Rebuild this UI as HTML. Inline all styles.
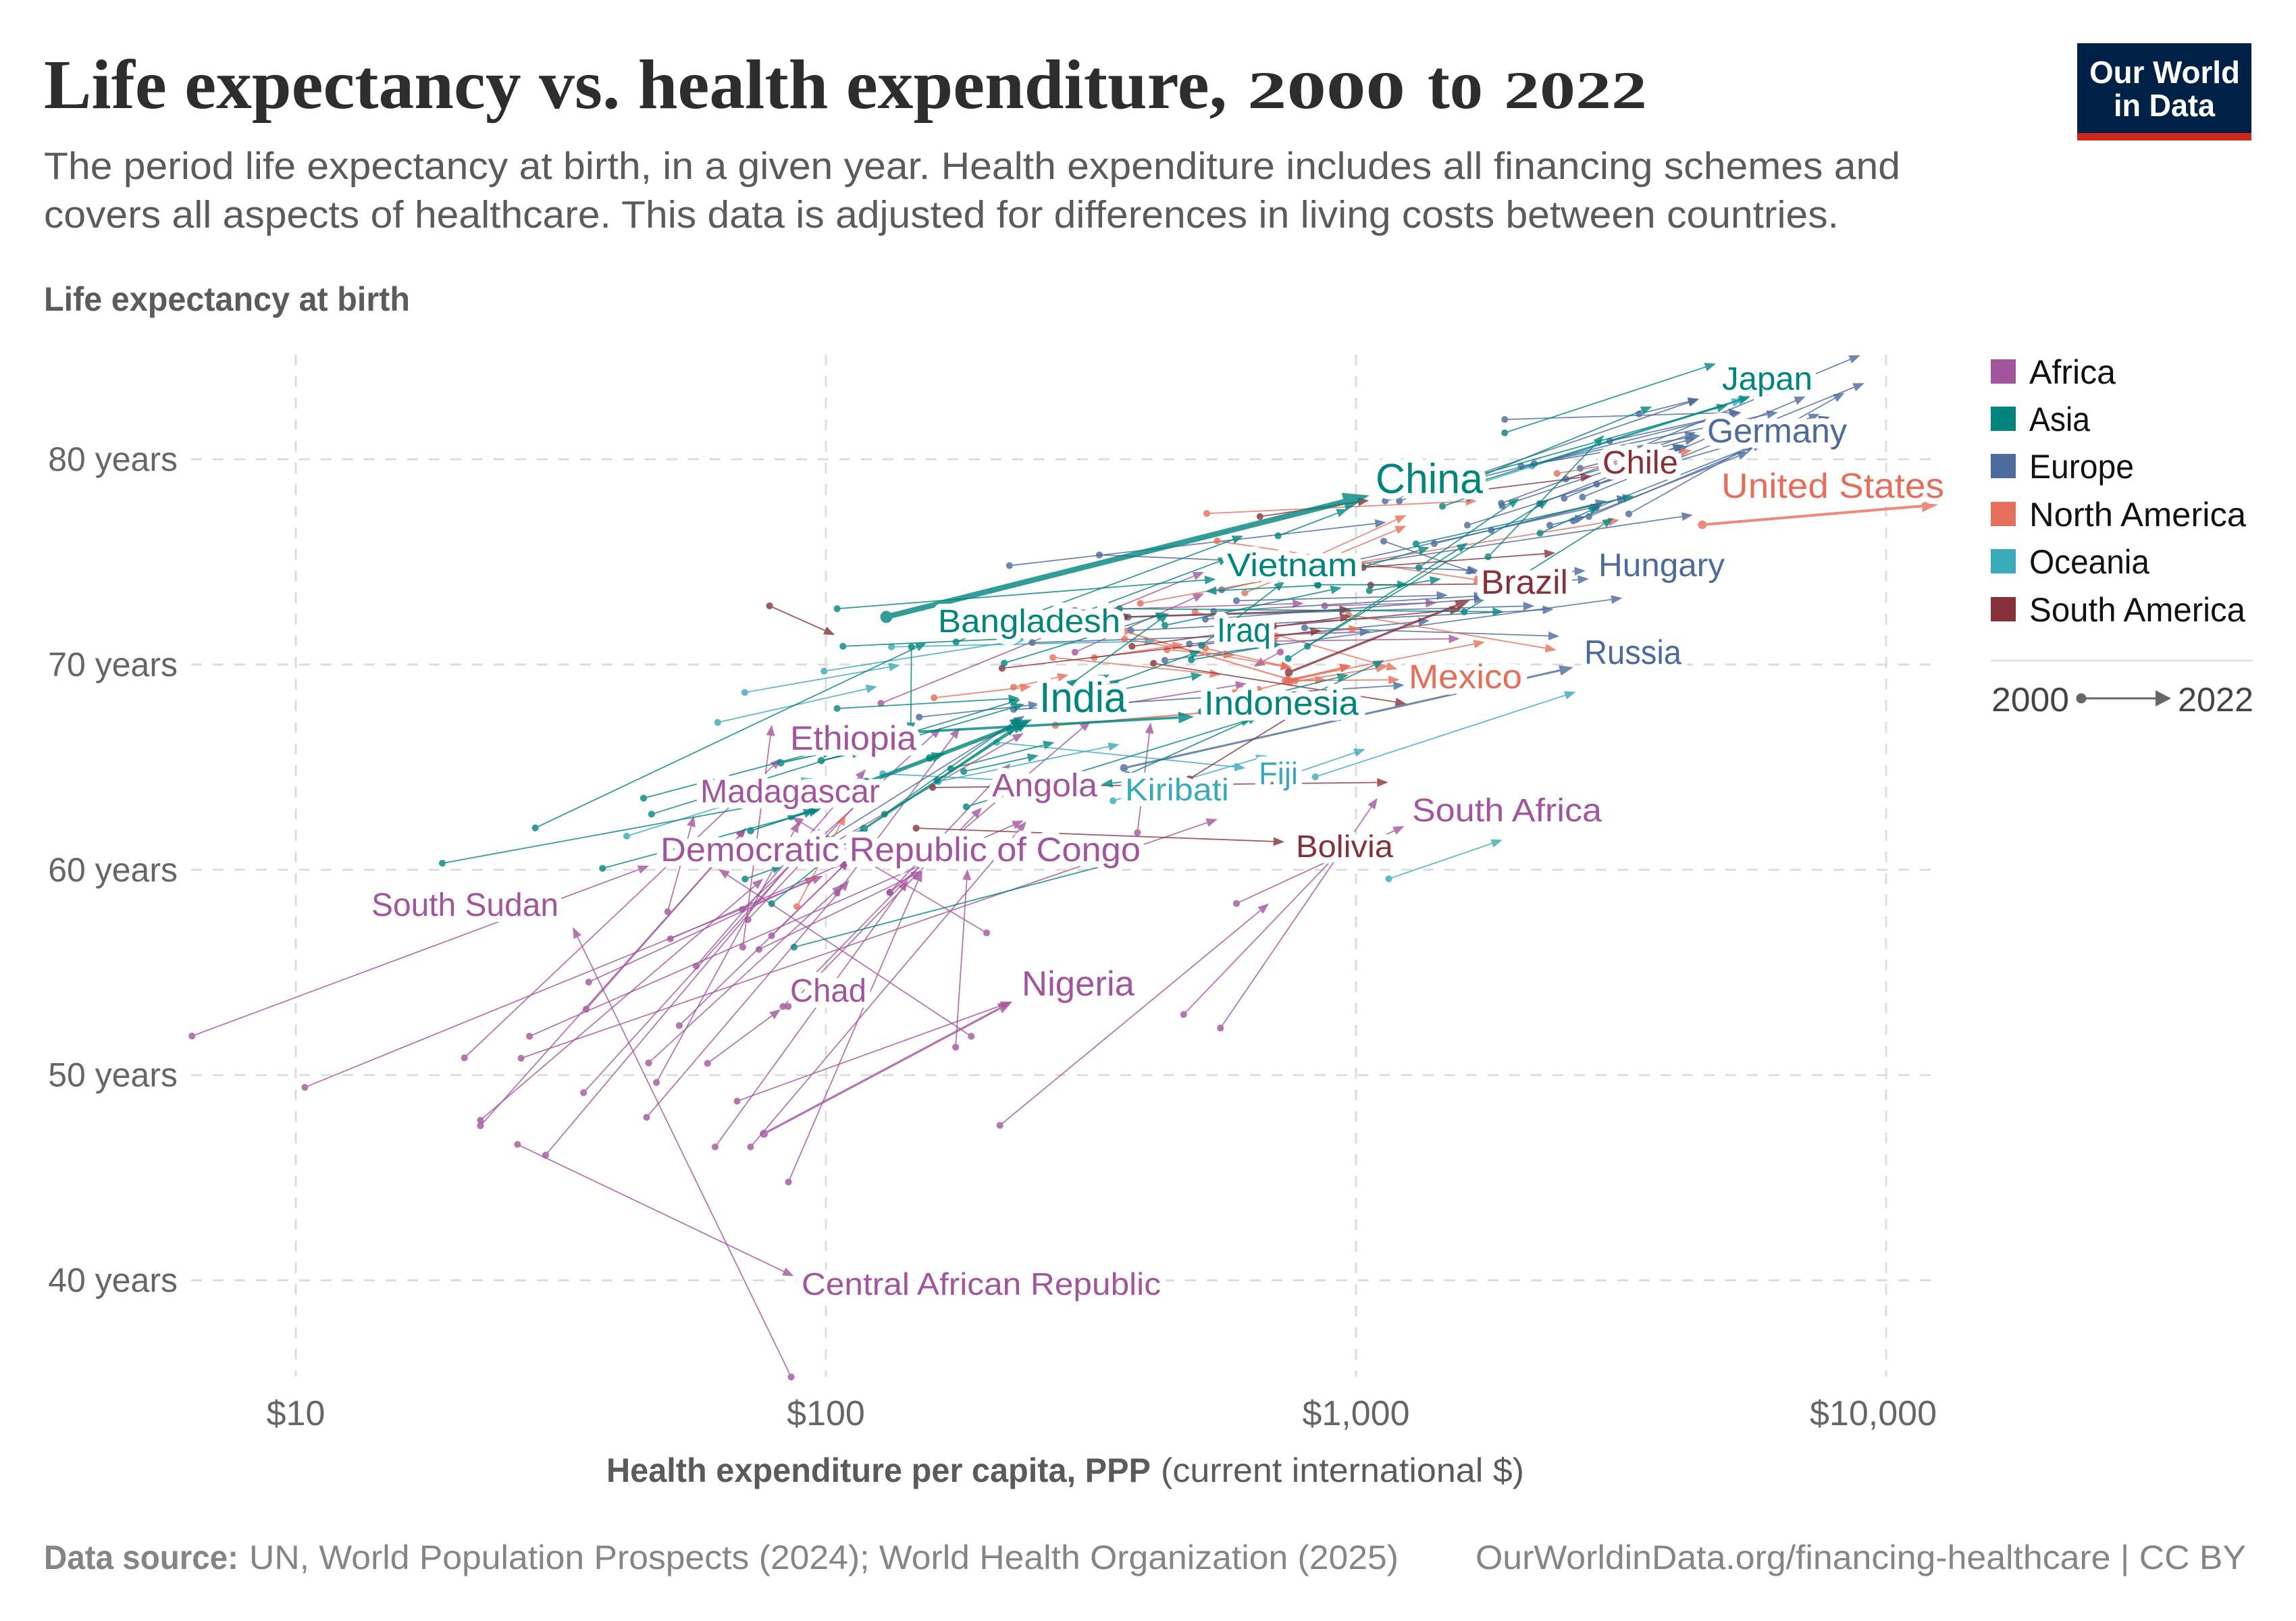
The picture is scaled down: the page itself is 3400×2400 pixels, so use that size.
<!DOCTYPE html>
<html lang="en">
<head>
<meta charset="utf-8">
<title>Life expectancy vs. health expenditure, 2000 to 2022</title>
<style>
html,body{margin:0;padding:0;background:#fff}
svg{display:block}
text{font-family:"Liberation Sans",sans-serif}
.lab{paint-order:stroke;stroke:#fff;stroke-width:18px;stroke-linejoin:round}
.af{fill:#A2559C}.as{fill:#00847E}.eu{fill:#4C6A9C}.na{fill:#E56E5A}.oc{fill:#38AABA}.sa{fill:#883039}
.ttl{font-family:"Liberation Serif",serif;font-weight:bold;fill:#2d2d2d}
</style>
</head>
<body>
<svg xmlns="http://www.w3.org/2000/svg" width="3400" height="2400" viewBox="0 0 3400 2400">
<rect width="3400" height="2400" fill="#fff"/>

<g>
<text class="ttl" x="65" y="160" font-size="104" textLength="1752" lengthAdjust="spacingAndGlyphs">Life expectancy vs. health expenditure,</text>
<text class="ttl" x="1847" y="160" font-size="78" textLength="234" lengthAdjust="spacingAndGlyphs">2000</text>
<text class="ttl" x="2114" y="160" font-size="104" textLength="82" lengthAdjust="spacingAndGlyphs">to</text>
<text class="ttl" x="2227" y="160" font-size="78" textLength="212" lengthAdjust="spacingAndGlyphs">2022</text>
</g>
<text x="65" y="265" font-size="57" fill="#5b5b5b" textLength="2749" lengthAdjust="spacingAndGlyphs">The period life expectancy at birth, in a given year. Health expenditure includes all financing schemes and</text>
<text x="65" y="337" font-size="57" fill="#5b5b5b" textLength="2658" lengthAdjust="spacingAndGlyphs">covers all aspects of healthcare. This data is adjusted for differences in living costs between countries.</text>

<g>
<rect x="3076" y="64" width="258" height="144" fill="#002147"/>
<rect x="3076" y="197" width="258" height="11" fill="#ce261e"/>
<text x="3094" y="123" font-size="46" font-weight="bold" fill="#fff" textLength="223" lengthAdjust="spacingAndGlyphs">Our World</text>
<text x="3130" y="172" font-size="46" font-weight="bold" fill="#fff" textLength="150" lengthAdjust="spacingAndGlyphs">in Data</text>
</g>

<text x="65" y="460" font-size="50" font-weight="bold" fill="#5b5b5b" textLength="542" lengthAdjust="spacingAndGlyphs">Life expectancy at birth</text>

<g id="grid"></g>
<g id="yticks"></g>
<g id="xticks"></g>
<g id="arrows"></g>

<g>
<text class="lab af" x="1187" y="1917" font-size="46" textLength="532" lengthAdjust="spacingAndGlyphs">Central African Republic</text>
<text class="lab af" x="550" y="1356" font-size="48" textLength="277" lengthAdjust="spacingAndGlyphs">South Sudan</text>
<text class="lab af" x="1170" y="1483" font-size="48" textLength="113" lengthAdjust="spacingAndGlyphs">Chad</text>
<text class="lab af" x="1513" y="1474" font-size="52" textLength="167" lengthAdjust="spacingAndGlyphs">Nigeria</text>
<text class="lab af" x="978" y="1275" font-size="50" textLength="711" lengthAdjust="spacingAndGlyphs">Democratic Republic of Congo</text>
<text class="lab af" x="1037" y="1188" font-size="48" textLength="266" lengthAdjust="spacingAndGlyphs">Madagascar</text>
<text class="lab af" x="1170" y="1110" font-size="50" textLength="187" lengthAdjust="spacingAndGlyphs">Ethiopia</text>
<text class="lab af" x="1469" y="1179" font-size="48" textLength="156" lengthAdjust="spacingAndGlyphs">Angola</text>
<text class="lab af" x="2091" y="1216" font-size="48" textLength="281" lengthAdjust="spacingAndGlyphs">South Africa</text>
<text class="lab sa" x="1919" y="1269" font-size="46" textLength="144" lengthAdjust="spacingAndGlyphs">Bolivia</text>
<text class="lab oc" x="1666" y="1185" font-size="46" textLength="154" lengthAdjust="spacingAndGlyphs">Kiribati</text>
<text class="lab oc" x="1864" y="1161" font-size="46" textLength="58" lengthAdjust="spacingAndGlyphs">Fiji</text>
<text class="lab na" x="2086" y="1019" font-size="50" textLength="168" lengthAdjust="spacingAndGlyphs">Mexico</text>
<text class="lab eu" x="2346" y="983" font-size="50" textLength="144" lengthAdjust="spacingAndGlyphs">Russia</text>
<text class="lab as" x="1783" y="1058" font-size="50" textLength="229" lengthAdjust="spacingAndGlyphs">Indonesia</text>
<text class="lab as" x="1539" y="1054" font-size="62" textLength="129" lengthAdjust="spacingAndGlyphs">India</text>
<text class="lab as" x="1802" y="950" font-size="50" textLength="80" lengthAdjust="spacingAndGlyphs">Iraq</text>
<text class="lab as" x="1389" y="936" font-size="48" textLength="270" lengthAdjust="spacingAndGlyphs">Bangladesh</text>
<text class="lab as" x="1817" y="853" font-size="48" textLength="193" lengthAdjust="spacingAndGlyphs">Vietnam</text>
<text class="lab sa" x="2193" y="879" font-size="50" textLength="129" lengthAdjust="spacingAndGlyphs">Brazil</text>
<text class="lab eu" x="2367" y="853" font-size="48" textLength="187" lengthAdjust="spacingAndGlyphs">Hungary</text>
<text class="lab na" x="2549" y="737" font-size="52" textLength="330" lengthAdjust="spacingAndGlyphs">United States</text>
<text class="lab as" x="2037" y="730" font-size="62" textLength="159" lengthAdjust="spacingAndGlyphs">China</text>
<text class="lab sa" x="2373" y="701" font-size="48" textLength="112" lengthAdjust="spacingAndGlyphs">Chile</text>
<text class="lab eu" x="2528" y="655" font-size="50" textLength="207" lengthAdjust="spacingAndGlyphs">Germany</text>
<text class="lab as" x="2550" y="577" font-size="48" textLength="134" lengthAdjust="spacingAndGlyphs">Japan</text>
</g>

<g>
<g><rect x="2948" y="532" width="37" height="36" fill="#A2559C"/><text x="3005" y="568" font-size="50" fill="#111" textLength="128" lengthAdjust="spacingAndGlyphs">Africa</text></g>
<g><rect x="2948" y="602" width="37" height="36" fill="#00847E"/><text x="3005" y="638" font-size="50" fill="#111" textLength="90" lengthAdjust="spacingAndGlyphs">Asia</text></g>
<g><rect x="2948" y="672" width="37" height="36" fill="#4C6A9C"/><text x="3005" y="708" font-size="50" fill="#111" textLength="155" lengthAdjust="spacingAndGlyphs">Europe</text></g>
<g><rect x="2948" y="743" width="37" height="36" fill="#E56E5A"/><text x="3005" y="779" font-size="50" fill="#111" textLength="321" lengthAdjust="spacingAndGlyphs">North America</text></g>
<g><rect x="2948" y="813" width="37" height="36" fill="#38AABA"/><text x="3005" y="849" font-size="50" fill="#111" textLength="178" lengthAdjust="spacingAndGlyphs">Oceania</text></g>
<g><rect x="2948" y="884" width="37" height="36" fill="#883039"/><text x="3005" y="920" font-size="50" fill="#111" textLength="320" lengthAdjust="spacingAndGlyphs">South America</text></g>
<line x1="2948" y1="978" x2="3336" y2="978" stroke="#e2e2e2" stroke-width="3"/>
<text x="2949" y="1053" font-size="50" fill="#444" textLength="115" lengthAdjust="spacingAndGlyphs">2000</text>
<circle cx="3082" cy="1034" r="7.5" fill="#666"/>
<line x1="3082" y1="1034" x2="3194" y2="1034" stroke="#666" stroke-width="3"/>
<polygon points="3215,1034 3192,1022 3192,1046" fill="#666"/>
<text x="3225" y="1053" font-size="50" fill="#444" textLength="112" lengthAdjust="spacingAndGlyphs">2022</text>
</g>

<text x="898" y="2194" font-size="50" font-weight="bold" fill="#5b5b5b" textLength="806" lengthAdjust="spacingAndGlyphs">Health expenditure per capita, PPP</text>
<text x="1719" y="2194" font-size="50" fill="#5b5b5b" textLength="538" lengthAdjust="spacingAndGlyphs">(current international $)</text>

<text x="65" y="2323" font-size="50" font-weight="bold" fill="#858585" textLength="288" lengthAdjust="spacingAndGlyphs">Data source:</text>
<text x="369" y="2323" font-size="50" fill="#858585" textLength="1702" lengthAdjust="spacingAndGlyphs">UN, World Population Prospects (2024); World Health Organization (2025)</text>
<text x="2185" y="2323" font-size="50" fill="#858585" textLength="1141" lengthAdjust="spacingAndGlyphs">OurWorldinData.org/financing-healthcare | CC BY</text>

<script>
// Tick values and labels
const xTickValues = [10, 100, 1000, 10000];
const xTickLabels = ["$10", "$100", "$1,000", "$10,000"];
const yTickValues = [40, 50, 60, 70, 80];
const yTickLabels = ["40 years", "50 years", "60 years", "70 years", "80 years"];

// Each row: [spend 2000 ($), life expectancy 2000, spend 2022 ($), life expectancy 2022, population weight (optional)]
const africa = [
[6.37,51.9,46.4,60.2],[10.4,49.4,98.8,59.7],[20.8,50.84,82.3,65.43],[50.3,57.96,56.4,62.64],
[69.7,56.23,79.1,67.07],[56.9,55.31,119,64.9],[35.3,53.21,70.8,62.04],[22.3,47.53,70.8,62.04],
[22.3,47.8,76.2,59.57],[35.7,54.53,95.9,59.64],[50.9,56.64,110.7,60.43],[26.6,50.82,548,62.47],
[27.6,51.89,236,62.4],[34.9,49.14,88.5,60.64],[45.9,47.94,110.7,59.5],[46.3,50.59,107.7,59.29],
[47.9,49.64,89.1,62.36],[52.9,52.41,111,60.5],[59.8,50.57,82.2,53.21],[68,48.73,224,53.57],
[76.4,47.14,225,53.58,200],[61.8,46.5,143,59.5],[72.1,46.5,239,62.36],[85,44.79,152,59.96],
[175.7,51.36,185,60.04],[188,51.89,62.7,60.04],[201,56.93,86.3,62.57],[387,61.81,410,67.18],
[595,58.36,1234,62.13],[213,47.55,685,58.36],[473,52.95,994,61.64],[555,52.29,1098,63.5],
[26.2,46.62,87,40.2],[29.6,46.1,97.5,62],[86,35.29,33.3,57.21],[83,53.34,170.5,61.61],
[84.9,53.34,197,63.04],[127,68.11,517,74.51],[295,70.6,517,73.47],[295,72.64,797,72.98],
[720,70.61,641,69.9],[306,67.79,622,69.07],[873,72.86,1420,73.01],[700,71.14,1570,71.26],
[132,58.89,316,67.26],[74.8,56.12,152,59.93],[79,56.79,111,60.5],[69.6,58.07,165,66.93],
[71.3,57.57,126.5,64.41],[105,58.86,179,66.93],[132,58.91,223,65.18],[97.5,60.93,236,66.66]
];
const oceania = [
[838,64.53,2598,68.67],[1153,59.56,1889,61.46],[699,64.36,1041,65.88],[348,63.36,680,65.56],
[210,66.21,619,64.96],[128,64.68,222,64.36],[163,64.3,358,66.11],[133,70.86,419,71.14],
[70.3,68.64,138,69.97],[99.2,69.68,237,71.21],[62.5,67.18,125,68.93],[42.1,61.64,94.3,64.46],
[2148,79.67,5510,83],[1652,78.71,5370,82.93]
];
const europe = [
[222,74.82,1140,76.93],[328,75.34,1710,74.57],[1128,76.01,1692,74.43],[1908,81.94,5300,82.29],
[3420,82.21,4440,82.94],[3012,80.89,5340,82.29],[2048,79.67,4470,81.16],[2170,79.79,6250,82.29],
[2648,79.56,4380,81.03],[2490,79.04,4160,80.66],[2845,78.79,7830,82.06],[3270,77.34,8350,83.24],
[2675,78.16,9100,83.71],[3020,80,8940,85.07],[2470,78.1,7050,83.06],[2220,77.84,4240,80.66],
[1880,77.86,4380,81.32],[1888,77.73,4160,80.71],[1622,76.79,3650,79.64],[1800,76.54,2970,77.97],
[2320,76.79,2720,77.2],[558,73.64,2910,77.75],[1405,75.89,3260,78.16],[1207,77.97,4440,82.94],
[1135,77.97,5050,82.14],[6070,81.21,7830,82.06],[6470,81.57,7500,82.21],[2750,77.21,5870,80.79],
[2570,77,5510,80.36],[2840,77.64,5700,80.71],[994,74.86,4320,77.29],[1800,74.36,2710,74.57],
[1800,73.79,2750,74.18],[436,70.21,3180,73.24],[376,71.66,2360,72.69],[372,72.31,2170,72.86],
[800,71.79,2420,71.38],[365,64.96,2570,69.86,145],[595,73.11,1490,73.38],[485,71,1377,72.14],
[245,71.07,1067,71.6],[539,72.59,1752,73.36],[520,72.21,1752,73.21],[226,67.81,1234,69],
[150,67.44,253,68.07],[100.8,61.5,237,67.5]
];
const northAmerica = [
[547,76.02,1752,74.07],[392,72.98,745,74.29],[617,73.49,1245,76.76],[765,74.79,1245,77.28],
[268,70.34,556,69.51],[321,70.34,473,70.98],[366,71.25,757,69.84],[440,70.72,591,70.45],
[366,71.61,772,69.18,30],[497,72.57,1198,69.77],[968,72.43,2388,70.71],[707,71.39,1018,71.76],
[226,68.9,287,69.5],[160,68.38,244,68.93],[271,67.04,595,67.79,30],[88.2,58.21,109,62.71],
[591,68.64,638,68.93],[2395,79.31,4300,80.43],[722,74.36,3140,77.04],[523,77.36,1690,77.97],
[743,69.24,1750,71.1],[735,69.21,979,69.95],[745,69.21,879,69.26],[768,69.21,1208,69.26],
[655,68.79,979,69.95],[752,69.14,1145,69.9],[520,70.79,757,69.84],[4500,76.81,12530,77.79,330]
];
const southAmerica = [
[78.3,72.86,104,71.44],[159,64.01,1150,64.26],[148,62.03,733,61.36],[215,69.82,861,71.66],
[378,70.89,979,72.36],[366,72.32,979,72.68,20],[415,70.06,1245,68.09],[485,64.43,820,68.07],
[747,69.62,1641,73.14,200],[1066,73.87,1800,73.93],[1032,74.73,2379,75.44],[1706,78.5,2786,79.18],
[699,71.86,1578,72.69],[659,77.21,1058,78]
];
const asia = [
[105,72.72,544,74.16],[107.7,70.89,237,71.29],[145,70.86,144.6,66.64],[28.3,62.04,155,71.07],
[176,71.1,613,76.27],[105,67.86,232,68.36],[18.9,60.32,80.4,63.29],[45.3,63.49,100.6,65.86],
[46.9,62.71,118,65.93],[82.2,65.21,103.9,65.79,40],[98,65.32,118,65.79,40],[37.9,60.07,97.5,62.93],
[72.1,61.9,95.6,62.93,30],[86,62.59,98.7,63.07,40],[70.4,59.55,83,60.21],[79,58.35,118,62],
[87.1,56.23,371,60.5],[129,62.71,233,67.43],[172,64.93,270,66.21],[182,64.79,252,65.57],
[162,64.36,229,67],[184,63.07,637,67.36],[371,64.64,655,67.5],[366,64.29,331,64.16],
[358,72.72,1900,72.57],[436,71.91,940,73.75],[217,70.07,440,72.5],[489,70.23,722,71],
[848,73.86,520,73.57],[713,76.27,965,77.57],[846,73.89,1255,73.89],[1060,73.6,1447,74.18],
[1314,74.73,2034,78.11],[1298,75.88,3344,78.21],[1775,75.25,2938,81.18],[2225,76.4,2883,77.71],
[1600,72.57,3060,77.14],[810,70.89,2312,78.03],[745,70.29,1626,75.93],[994,74.64,1377,75.71],
[1652,79,3618,82.57],[1652,79.14,5030,82.64],[1652,78.79,5550,83.07],[1908,81.29,4775,84.66],
[745,68,1130,70.21],[511,67.71,968,69.5],[278,68.79,299,69.29],[296,68.79,343,69.51],
[306,68.21,360,69.29],[360,68.79,513,69.51],[316,68.71,510,70.67],[278,68.71,444,72.5],
[222,71.21,577,75.21],[511,70.93,735,74.07],[1456,77.71,1692,78.29],[134,66.43,233,68.29],
[138,66.29,237,68.07],[157,65.45,168,65.67,120],[118,62,242,67.29,170],[146,66.71,495,67.46,280],
[119,64.24,245,67.32,700],[130,72.32,1060,78.24,1400]
];
const continents = ["Africa", "Oceania", "Europe", "North America", "South America", "Asia"];
const continentColors = ["#A2559C", "#38AABA", "#4C6A9C", "#E56E5A", "#883039", "#00847E"];
const continentRows = [africa, oceania, europe, northAmerica, southAmerica, asia];

const NS = "http://www.w3.org/2000/svg";
const plotLeft = 283, plotRight = 2860, plotTop = 525, plotBottom = 2038;
const xLabelRightLimit = 2868;
function xScale(v) { return 438 + 785 * (Math.log10(v) - 1); }
function yScale(v) { return 680 + (80 - v) * 30.39; }

const gridLayer = document.getElementById("grid");
const yLayer = document.getElementById("yticks");
const xLayer = document.getElementById("xticks");
const arrowLayer = document.getElementById("arrows");

function gridLine(x1, y1, x2, y2) {
  const l = document.createElementNS(NS, "line");
  l.setAttribute("x1", x1); l.setAttribute("y1", y1);
  l.setAttribute("x2", x2); l.setAttribute("y2", y2);
  l.setAttribute("stroke", "#dddddd");
  l.setAttribute("stroke-width", "3");
  l.setAttribute("stroke-dasharray", "16 16");
  
  
  gridLayer.appendChild(l);
}
xTickValues.forEach(function (v, i) {
  gridLine(xScale(v), plotTop, xScale(v), plotBottom);
  const t = document.createElementNS(NS, "text");
  t.setAttribute("y", 2110);
  t.setAttribute("text-anchor", "middle");
  t.setAttribute("font-size", "52");
  t.setAttribute("fill", "#666");
  
  
  t.textContent = xTickLabels[i];
  xLayer.appendChild(t);
  // keep the label inside the plot's right bound, as the last tick does in the reference
  t.setAttribute("x", Math.min(xScale(v), xLabelRightLimit - t.getComputedTextLength() / 2));
});
yTickValues.forEach(function (v, i) {
  gridLine(plotLeft, yScale(v), plotRight, yScale(v));
  const t = document.createElementNS(NS, "text");
  t.setAttribute("x", 263);
  t.setAttribute("y", yScale(v) + 17);
  t.setAttribute("text-anchor", "end");
  t.setAttribute("font-size", "50");
  t.setAttribute("fill", "#666");
  
  
  t.textContent = yTickLabels[i];
  yLayer.appendChild(t);
});

function drawArrow(row, color) {
  const x0 = xScale(row[0]), y0 = yScale(row[1]), x1 = xScale(row[2]), y1 = yScale(row[3]);
  const pop = row[4] || 0;
  const w = 1.8 + 6.5 * Math.pow(pop / 1400, 0.75);
  const headLen = 10 + w * 3.5, headHalf = 4.5 + w * 1.1, dotR = 4 + w * 0.6;
  const len = Math.hypot(x1 - x0, y1 - y0) || 1;
  const ux = (x1 - x0) / len, uy = (y1 - y0) / len;
  const bx = x1 - ux * headLen, by = y1 - uy * headLen;
  const g = document.createElementNS(NS, "g");
  g.setAttribute("opacity", "0.8");
  
  
  const shaft = document.createElementNS(NS, "line");
  shaft.setAttribute("x1", x0); shaft.setAttribute("y1", y0);
  shaft.setAttribute("x2", bx); shaft.setAttribute("y2", by);
  shaft.setAttribute("stroke", color);
  shaft.setAttribute("stroke-width", w);
  
  
  g.appendChild(shaft);
  const dot = document.createElementNS(NS, "circle");
  dot.setAttribute("cx", x0); dot.setAttribute("cy", y0);
  dot.setAttribute("r", dotR);
  dot.setAttribute("fill", color);
  
  
  g.appendChild(dot);
  const head = document.createElementNS(NS, "polygon");
  head.setAttribute("points",
    x1 + "," + y1 + " " +
    (bx - uy * headHalf) + "," + (by + ux * headHalf) + " " +
    (bx + uy * headHalf) + "," + (by - ux * headHalf));
  head.setAttribute("fill", color);
  
  
  g.appendChild(head);
  arrowLayer.appendChild(g);
}
continentRows.forEach(function (rows, i) {
  rows.forEach(function (row) { drawArrow(row, continentColors[i]); });
});
</script>
</svg>
</body>
</html>
